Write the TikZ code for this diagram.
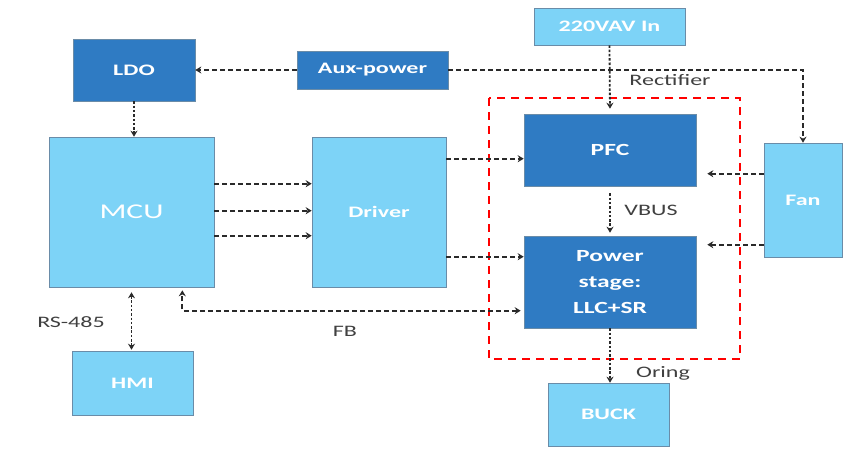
\documentclass[tikz,border=0pt]{standalone}
\usepackage{fontspec}
\usepackage{graphicx}
\setmainfont{Carlito}
\usetikzlibrary{arrows.meta,calc}
\definecolor{dkblue}{HTML}{2F7BC3}
\definecolor{ltblue}{HTML}{7DD3F7}
\definecolor{edge}{HTML}{6A8CA8}
\definecolor{lbl}{HTML}{404040}
\definecolor{conn}{HTML}{2A2A2A}
\newcommand{\wtxt}[1]{\scalebox{1.5}[1]{#1}}
\tikzset{
  dkbox/.style={draw=edge, line width=0.6pt, fill=dkblue, text=white, font=\bfseries\fontsize{16}{20}\selectfont, inner sep=0pt, align=center},
  ltbox/.style={draw=edge, line width=0.6pt, fill=ltblue, text=white, font=\bfseries\fontsize{16}{20}\selectfont, inner sep=0pt, align=center},
  conn/.style={draw=conn, line width=1.8pt, dash pattern=on 5pt off 3pt, -{Stealth[length=6pt,width=7pt]}},
  vconn/.style={draw=conn, line width=1.8pt, dash pattern=on 2.5pt off 1.8pt, -{Stealth[length=6pt,width=7pt]}},
  lab/.style={text=lbl, font=\fontsize{16}{19}\selectfont, inner sep=0pt},
  redbox/.style={draw=red, line width=2pt, dash pattern=on 8pt off 6pt}
}
\begin{document}
\begin{tikzpicture}[x=1pt,y=-1pt]
\useasboundingbox (0,0) rectangle (856,448);
% red dashed group
\draw[redbox] (489,98) rectangle (740,359);
% nodes
\node[dkbox, minimum width=122pt, minimum height=62pt] (ldo) at (134,70) {\wtxt{LDO}};
\node[dkbox, minimum width=151pt, minimum height=38pt] (aux) at (372.5,70) {\wtxt{Aux-power}};
\node[ltbox, minimum width=165pt, minimum height=150pt, font=\fontsize{21}{24}\selectfont] (mcu) at (131.5,212) {\wtxt{MCU}};
\node[ltbox, minimum width=134pt, minimum height=150pt] (drv) at (379,212) {\wtxt{Driver}};
\node[ltbox, minimum width=121pt, minimum height=64pt] (hmi) at (132.5,383) {\wtxt{HMI}};
\node[ltbox, minimum width=151pt, minimum height=37pt] (ac) at (609.5,26.5) {\wtxt{220VAV In}};
\node[dkbox, minimum width=172pt, minimum height=72pt, font=\bfseries\fontsize{17}{20}\selectfont] (pfc) at (610,150) {\wtxt{PFC}};
\node[dkbox, minimum width=172pt, minimum height=92pt, font=\bfseries\fontsize{17}{26}\selectfont] (ps) at (610,282) {\wtxt{Power}\\\wtxt{stage:}\\\wtxt{LLC+SR}};
\node[ltbox, minimum width=78pt, minimum height=114pt] (fan) at (803,200) {\wtxt{Fan}};
\node[ltbox, minimum width=121pt, minimum height=63pt] (buck) at (608.5,414.5) {\wtxt{BUCK}};
% connectors
\draw[conn] (aux.west) -- (ldo.east);
\draw[vconn] (ldo.south) -- (ldo.south |- mcu.north);
\draw[conn] ([yshift=-47pt]mcu.north east) -- ([yshift=-47pt]drv.north west);
\draw[conn] ([yshift=-74pt]mcu.north east) -- ([yshift=-74pt]drv.north west);
\draw[conn] ([yshift=-99pt]mcu.north east) -- ([yshift=-99pt]drv.north west);
\draw[vconn, shorten >=5pt] (ac.south) -- (pfc.north);
\draw[conn] (aux.east) -| (fan.north);
\draw[conn] ([yshift=-22pt]drv.north east) coordinate (d1) -- (pfc.west |- d1);
\draw[conn] ([yshift=-120pt]drv.north east) coordinate (d2) -- (ps.west |- d2);
\draw[conn, shorten >=11pt] ([yshift=-31pt]fan.north west) coordinate (f1) -- (pfc.east |- f1);
\draw[conn, shorten >=11pt] ([yshift=-102pt]fan.north west) coordinate (f2) -- (ps.east |- f2);
\draw[vconn, shorten <=7pt, shorten >=3pt] (pfc.south) -- (ps.north);
\draw[conn, {Stealth[length=6pt,width=7pt]}-{Stealth[length=6pt,width=7pt]}, shorten <=3pt, shorten >=3pt] ([yshift=-75pt]ps.north west) coordinate (p1) -| ([xshift=-32pt]mcu.south east);
\draw[vconn] (ps.south) -- (ps.south |- buck.north);
\draw[vconn, {Stealth[length=6pt,width=7pt]}-{Stealth[length=6pt,width=7pt]}, shorten <=5pt, shorten >=1pt] (mcu.south) -- (mcu.south |- hmi.north);
% labels
\node[lab] (rect) at (670,80) {\wtxt{Rectifier}};
\node[lab] (vbus) at (651,210) {\wtxt{VBUS}};
\node[lab] (fb) at (345,331) {\wtxt{FB}};
\node[lab] (oring) at (663,373) {\wtxt{Oring}};
\node[lab] (rs) at (71,322) {\wtxt{RS-485}};
\end{tikzpicture}
\end{document}
